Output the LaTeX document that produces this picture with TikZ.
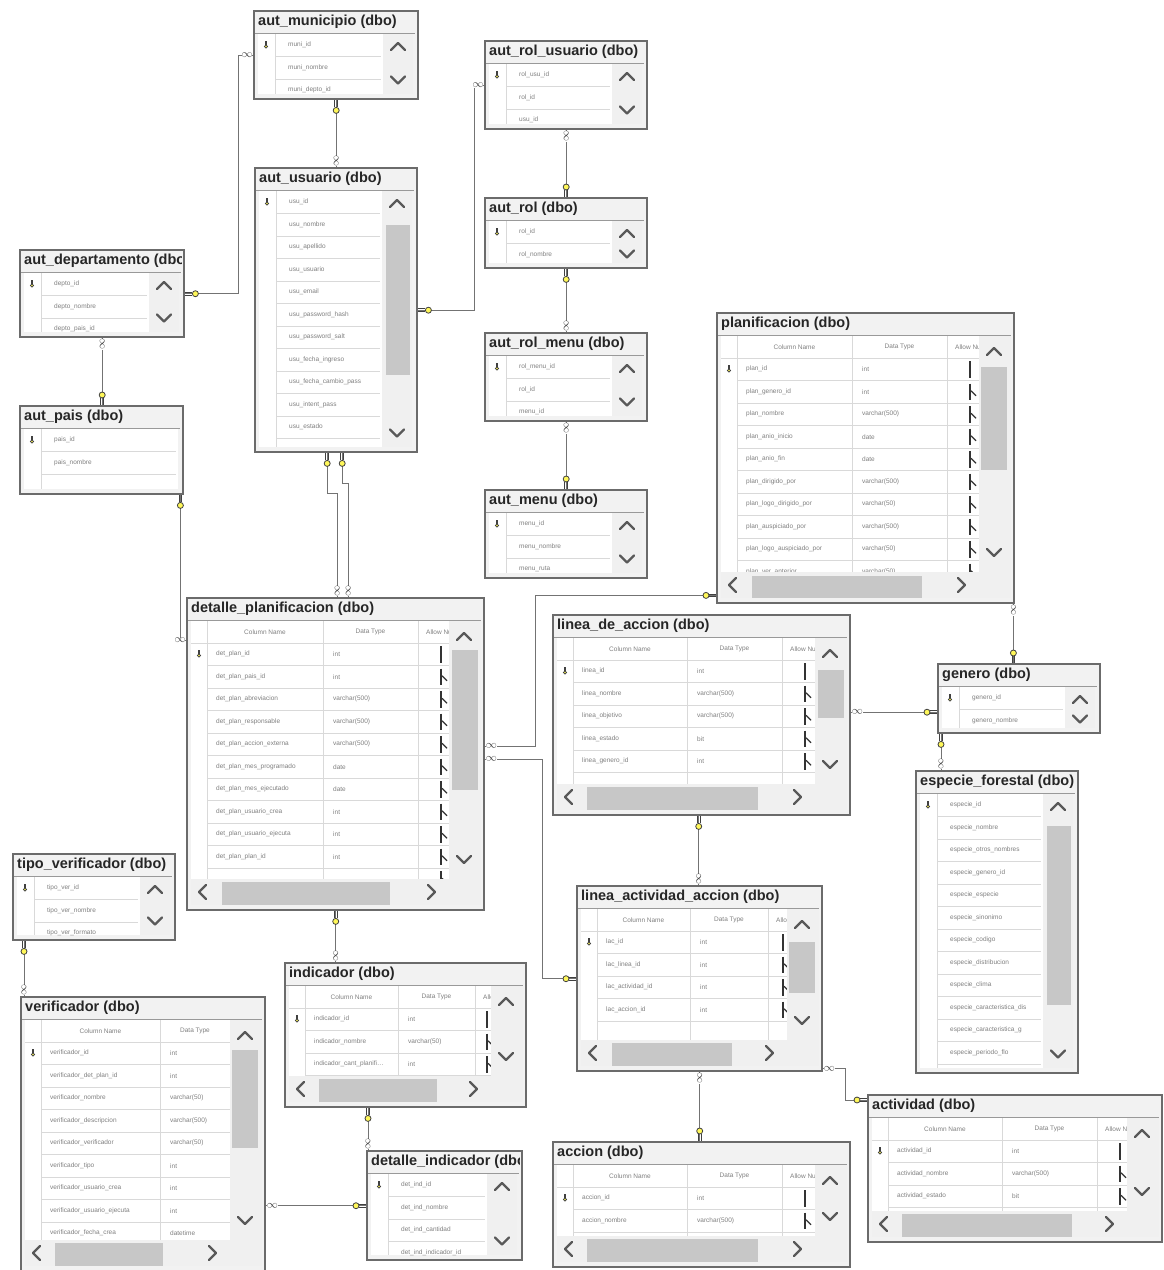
\documentclass[tikz,border=0pt]{standalone}
\usepackage{fontspec}
\setmainfont{Liberation Sans}
\usetikzlibrary{calc}

% list view: [scrollbar] name, x, y, w, h, title, rows
\newcommand{\listtable}[8][1]{%
  \node[tbl, minimum width=#5pt, minimum height=#6pt] (#2) at (#3,#4) {};
  \begin{scope}
    \clip ({#3+2},{#4+2}) rectangle ({#3+#5-2},{#4+#6-2});
    \node[ttltext] at ({#3+5},{#4+12}) {#7};
    \ifnum#1=1 \def\bodyend{34}\else\def\bodyend{4}\fi
    \ifnum#6<80 \def\downat{13}\else\def\downat{18}\fi
    \fill[white] ({#3+5},{#4+24}) rectangle ({#3+#5-\bodyend},{#4+#6-4});
    \draw[rowline] ({#3+22},{#4+24}) -- ({#3+22},{#4+#6-4});
    \foreach \c [count=\i] in {#8} {
      \node[coltext] at ({#3+35},{#4+24+(\i-0.5)*22.5}) {\c};
      \draw[rowline] ({#3+22},{#4+24+\i*22.5}) -- ({#3+#5-\bodyend-2},{#4+24+\i*22.5});
    }
    \pic[scale=0.55, rotate=90] at ({#3+13},{#4+31}) {keyend};
    \ifnum#1=1
      \fill[scrollbar] ({#3+#5-34},{#4+24}) rectangle ({#3+#5-4},{#4+#6-4});
      \draw[chevron] ({#3+#5-26},{#4+40}) -- ({#3+#5-19},{#4+33}) -- ({#3+#5-12},{#4+40});
      \draw[chevron] ({#3+#5-26},{#4+#6-\downat-3.5}) -- ({#3+#5-19},{#4+#6-\downat+3.5}) -- ({#3+#5-12},{#4+#6-\downat-3.5});
    \fi
  \end{scope}
  \draw[ttlline] ({#3+2},{#4+23}) -- ({#3+#5-2},{#4+23});
}

% standard view: name, x, y, w, h, title, name/type divider, type/nulls divider, rows
\newcommand{\gridtable}[9]{%
  \node[tbl, minimum width=#4pt, minimum height=#5pt] (#1) at (#2,#3) {};
  \begin{scope}
    \clip ({#2+2},{#3+2}) rectangle ({#2+#4-2},{#3+#5-2});
    \node[ttltext] at ({#2+5},{#3+12}) {#6};
    \fill[white] ({#2+5},{#3+24}) rectangle ({#2+#4-34},{#3+#5-30});
    \node[hdrtext] at ({#2+(21+#7)/2},{#3+35}) {Column Name};
    \node[hdrtext] at ({#2+(#7+#8)/2},{#3+35}) {Data Type};
    \ifnum\numexpr#4-#8\relax>40
      \node[hdrtext, anchor=west] at ({#2+#8+8},{#3+35}) {Allow Nulls};
    \fi
    \foreach \d in {21,#7,#8} \draw[rowline] ({#2+\d},{#3+24}) -- ({#2+\d},{#3+#5-30});
    \draw[rowline] ({#2+5},{#3+46}) -- ({#2+#4-34},{#3+46});
    \foreach \c/\t [count=\i] in {#9} {
      \node[coltext] at ({#2+30},{#3+46+(\i-0.5)*22.5}) {\c};
      \node[coltext] at ({#2+#7+10},{#3+46+(\i-0.5)*22.5}) {\t};
      \draw[rowline] ({#2+21},{#3+46+\i*22.5}) -- ({#2+#4-34},{#3+46+\i*22.5});
      \ifnum\numexpr#4-#8\relax>40
        \draw[nullbox] ({#2+min(#8+23,#4-38)},{#3+46+(\i-1)*22.5+3}) -- ++(0,16.5);
        \ifnum\i>1 \draw[nullchk] ({#2+min(#8+23,#4-38)+1},{#3+46+(\i-0.5)*22.5-1}) -- ++(5,5);\fi
      \fi
    }
    \pic[scale=0.55, rotate=90] at ({#2+13},{#3+53}) {keyend};
    \fill[scrollbar] ({#2+#4-34},{#3+24}) rectangle ({#2+#4-2},{#3+#5-4});
    \fill[scrollbar] ({#2+5},{#3+#5-30}) rectangle ({#2+#4-4},{#3+#5-4});
    \draw[chevron] ({#2+#4-26},{#3+43}) -- ({#2+#4-19},{#3+36}) -- ({#2+#4-12},{#3+43});
    \draw[chevron] ({#2+#4-26},{#3+#5-53}) -- ({#2+#4-19},{#3+#5-46}) -- ({#2+#4-12},{#3+#5-53});
    \draw[chevron] ({#2+20},{#3+#5-24}) -- ({#2+13},{#3+#5-17}) -- ({#2+20},{#3+#5-10});
    \draw[chevron] ({#2+#4-55},{#3+#5-24}) -- ({#2+#4-48},{#3+#5-17}) -- ({#2+#4-55},{#3+#5-10});
  \end{scope}
  \draw[ttlline] ({#2+2},{#3+23}) -- ({#2+#4-2},{#3+23});
}

\begin{document}
\begin{tikzpicture}[x=1pt, y=-1pt,
    tbl/.style={draw=black!58, line width=2.4pt, fill=black!5, inner sep=0pt, anchor=north west},
    ttltext/.style={font=\fontsize{14.5}{16}\selectfont\bfseries, text=black!85, anchor=west, inner sep=0pt},
    coltext/.style={font=\fontsize{6.5}{7}\selectfont, text=black!50, anchor=west, inner sep=0pt},
    hdrtext/.style={font=\fontsize{6.5}{7}\selectfont, text=black!50, inner sep=0pt},
    rowline/.style={draw=black!15, line width=0.6pt},
    ttlline/.style={draw=black!40, line width=1pt},
    scrollbar/.style={fill=black!6},
    thumbfill/.style={fill=black!22},
    chevron/.style={draw=black!65, line width=2.2pt, line cap=round, line join=round},
    nullbox/.style={draw=black!80, line width=1.6pt},
    nullchk/.style={draw=black!80, line width=1.3pt},
    relline/.style={draw=black!55, line width=1pt},
    pics/keyend/.style={code={
      \draw[black!75, line width=0.8pt] (-7,-1.4) -- (0,-1.4) (-7,1.4) -- (0,1.4);
      \draw[black!75, fill=yellow!65, line width=0.8pt] (-10,0) circle (3);
    }},
    pics/infend/.style={code={
      \node[transform shape, inner sep=0pt, fill=white, text=black!75,
        font=\fontsize{11}{11}\selectfont] at (-6,0) {$\infty$};
    }}
]
\useasboundingbox (0,0) rectangle (1163,1270);
\fill[white] (0,0) rectangle (1163,1270);

% security tables
\listtable{muni}{253}{10}{164}{88}{aut\_municipio (dbo)}{muni\_id, muni\_nombre, muni\_depto\_id}
\listtable{rolusu}{484}{40}{162}{88}{aut\_rol\_usuario (dbo)}{rol\_usu\_id, rol\_id, usu\_id}
\listtable{usuario}{254}{167}{162}{284}{aut\_usuario (dbo)}{usu\_id, usu\_nombre, usu\_apellido, usu\_usuario, usu\_email, usu\_password\_hash, usu\_password\_salt, usu\_fecha\_ingreso, usu\_fecha\_cambio\_pass, usu\_intent\_pass, usu\_estado}
\fill[thumbfill] (386,225) rectangle (410,375);
\listtable{depto}{19}{249}{164}{87}{aut\_departamento (dbo)}{depto\_id, depto\_nombre, depto\_pais\_id}
\listtable[0]{pais}{19}{405}{163}{88}{aut\_pais (dbo)}{pais\_id, pais\_nombre, {}}
\listtable{rol}{484}{197}{162}{70}{aut\_rol (dbo)}{rol\_id, rol\_nombre}
\listtable{rolmenu}{484}{332}{162}{88}{aut\_rol\_menu (dbo)}{rol\_menu\_id, rol\_id, menu\_id}
\listtable{menu}{484}{489}{162}{88}{aut\_menu (dbo)}{menu\_id, menu\_nombre, menu\_ruta}

% planning tables
\gridtable{plan}{716}{312}{297}{290}{planificacion (dbo)}{136}{231}{plan\_id/int, plan\_genero\_id/int, plan\_nombre/varchar(500), plan\_anio\_inicio/date, plan\_anio\_fin/date, plan\_dirigido\_por/varchar(500), plan\_logo\_dirigido\_por/varchar(50), plan\_auspiciado\_por/varchar(500), plan\_logo\_auspiciado\_por/varchar(50), plan\_ver\_anterior/varchar(50)}
\fill[thumbfill] (981,367) rectangle (1007,470);
\fill[thumbfill] (752,576) rectangle (922,598);
\gridtable{detplan}{186}{597}{297}{312}{detalle\_planificacion (dbo)}{137}{232}{det\_plan\_id/int, det\_plan\_pais\_id/int, det\_plan\_abreviacion/varchar(500), det\_plan\_responsable/varchar(500), det\_plan\_accion\_externa/varchar(500), det\_plan\_mes\_programado/date, det\_plan\_mes\_ejecutado/date, det\_plan\_usuario\_crea/int, det\_plan\_usuario\_ejecuta/int, det\_plan\_plan\_id/int, {}/{}}
\fill[thumbfill] (452,650) rectangle (478,790);
\fill[thumbfill] (222,882) rectangle (390,905);
\gridtable{linea}{552}{614}{297}{200}{linea\_de\_accion (dbo)}{135}{230}{linea\_id/int, linea\_nombre/varchar(500), linea\_objetivo/varchar(500), linea\_estado/bit, linea\_genero\_id/int}
\fill[thumbfill] (818,670) rectangle (844,718);
\fill[thumbfill] (587,787) rectangle (758,810);
\listtable{genero}{937}{663}{162}{69}{genero (dbo)}{genero\_id, genero\_nombre}
\listtable{especie}{915}{770}{162}{302}{especie\_forestal (dbo)}{especie\_id, especie\_nombre, especie\_otros\_nombres, especie\_genero\_id, especie\_especie, especie\_sinonimo, especie\_codigo, especie\_distribucion, especie\_clima, especie\_caracteristica\_dis, especie\_caracteristica\_g, especie\_periodo\_flo}
\fill[thumbfill] (1047,826) rectangle (1071,1005);
\gridtable{lac}{576}{885}{245}{185}{linea\_actividad\_accion (dbo)}{114}{192}{lac\_id/int, lac\_linea\_id/int, lac\_actividad\_id/int, lac\_accion\_id/int}
\fill[thumbfill] (789,942) rectangle (815,993);
\fill[thumbfill] (612,1043) rectangle (732,1066);
\gridtable{accion}{552}{1141}{297}{125}{accion (dbo)}{135}{230}{accion\_id/int, accion\_nombre/varchar(500)}
\fill[thumbfill] (587,1239) rectangle (758,1262);
\gridtable{activ}{867}{1094}{294}{147}{actividad (dbo)}{135}{230}{actividad\_id/int, actividad\_nombre/varchar(500), actividad\_estado/bit}
\fill[thumbfill] (902,1214) rectangle (1072,1237);

% indicator tables
\listtable{tipover}{12}{853}{162}{86}{tipo\_verificador (dbo)}{tipo\_ver\_id, tipo\_ver\_nombre, tipo\_ver\_formato}
\gridtable{verif}{20}{996}{244}{274}{verificador (dbo)}{140}{210}{verificador\_id/int, verificador\_det\_plan\_id/int, verificador\_nombre/varchar(50), verificador\_descripcion/varchar(500), verificador\_verificador/varchar(50), verificador\_tipo/int, verificador\_usuario\_crea/int, verificador\_usuario\_ejecuta/int, verificador\_fecha\_crea/datetime}
\fill[thumbfill] (232,1050) rectangle (258,1148);
\fill[thumbfill] (55,1243) rectangle (163,1266);
\gridtable{indic}{284}{962}{241}{144}{indicador (dbo)}{114}{191}{indicador\_id/int, indicador\_nombre/varchar(50), indicador\_cant\_planifi\ldots/int}
\fill[thumbfill] (319,1079) rectangle (437,1102);
\listtable{detind}{366}{1150}{155}{109}{detalle\_indicador (dbo)}{det\_ind\_id, det\_ind\_nombre, det\_ind\_cantidad, det\_ind\_indicador\_id}

% connector ends
\coordinate (paisK) at ([xshift=-4pt]pais.south east);
\coordinate (detplanW) at ([yshift=-43pt]detplan.north west);
\coordinate (usuK1) at ([xshift=-9pt]usuario.south);
\coordinate (usuK2) at ([xshift=6pt]usuario.south);
\coordinate (detplanN1) at ([xshift=1.5pt]detplan.north);
\coordinate (detplanN2) at ([xshift=12.5pt]detplan.north);
\coordinate (detplanE1) at ([yshift=8pt]detplan.east);
\coordinate (detplanE2) at ([yshift=-5pt]detplan.east);
\coordinate (planK) at ([yshift=9pt]plan.south west);
\coordinate (planS) at ([xshift=-2pt]plan.south east);
\coordinate (lineaE) at ([yshift=3pt]linea.east);
\coordinate (generoS) at ([xshift=4pt]genero.south west);
\coordinate (lineaS) at ([xshift=-3pt]linea.south);
\coordinate (lacE) at ([yshift=4pt]lac.south east);
\coordinate (activW) at ([yshift=-6pt]activ.north west);
\coordinate (indicS) at ([xshift=84pt]indic.south west);
\coordinate (tipoS) at ([xshift=12pt]tipover.south west);

% relationships
\draw[relline] (muni.west) -- ++(-15,0) |- (depto.east);
\draw[relline] (muni.south) -- (usuario.north);
\draw[relline] (rolusu.west) -- ++(-10,0) |- (usuario.east);
\draw[relline] (rolusu.south) -- (rol.north);
\draw[relline] (rol.south) -- (rolmenu.north);
\draw[relline] (rolmenu.south) -- (menu.north);
\draw[relline] (depto.south) -- (depto.south |- pais.north);
\draw[relline] (paisK) |- (detplanW);
\draw[relline] (usuK1) -- ++(0,40) -| (detplanN1);
\draw[relline] (usuK2) -- ++(0,30) -| (detplanN2);
\draw[relline] (detplanE1) -- ++(50,0) |- (planK);
\draw[relline] (detplanE2) -- ++(57,0) |- (lac.west);
\draw[relline] (planS) -- (planS |- genero.north);
\draw[relline] (lineaE) -- (lineaE -| genero.west);
\draw[relline] (generoS) -- (generoS |- especie.north);
\draw[relline] (lineaS) -- (lineaS |- lac.north);
\draw[relline] (lac.south) -- (lac.south |- accion.north);
\draw[relline] (lacE) -- ++(22,0) |- (activW);
\draw[relline] (detplan.south) -- (detplan.south |- indic.north);
\draw[relline] (indicS) -- (indicS |- detind.north);
\draw[relline] (verif.east |- detind.west) -- (detind.west);
\draw[relline] (tipoS) -- (tipoS |- verif.north);

% key and many ends
\pic at (muni.west) {infend};
\pic[rotate=180] at (depto.east) {keyend};
\pic[rotate=90] at (muni.south) {keyend};
\pic[rotate=-90] at (usuario.north) {infend};
\pic at (rolusu.west) {infend};
\pic[rotate=180] at (usuario.east) {keyend};
\pic[rotate=90] at (rolusu.south) {infend};
\pic[rotate=-90] at (rol.north) {keyend};
\pic[rotate=90] at (rol.south) {keyend};
\pic[rotate=-90] at (rolmenu.north) {infend};
\pic[rotate=90] at (rolmenu.south) {infend};
\pic[rotate=-90] at (menu.north) {keyend};
\pic[rotate=90] at (depto.south) {infend};
\pic[rotate=-90] at (depto.south |- pais.north) {keyend};
\pic[rotate=90] at (paisK) {keyend};
\pic at (detplanW) {infend};
\pic[rotate=90] at (usuK1) {keyend};
\pic[rotate=90] at (usuK2) {keyend};
\pic[rotate=-90] at (detplanN1) {infend};
\pic[rotate=-90] at (detplanN2) {infend};
\pic[rotate=180] at (detplanE1) {infend};
\pic at (planK) {keyend};
\pic[rotate=180] at (detplanE2) {infend};
\pic at (lac.west) {keyend};
\pic[rotate=90] at (planS) {infend};
\pic[rotate=-90] at (planS |- genero.north) {keyend};
\pic[rotate=180] at (lineaE) {infend};
\pic at (lineaE -| genero.west) {keyend};
\pic[rotate=90] at (generoS) {keyend};
\pic[rotate=-90] at (generoS |- especie.north) {infend};
\pic[rotate=90] at (lineaS) {keyend};
\pic[rotate=-90] at (lineaS |- lac.north) {infend};
\pic[rotate=90] at (lac.south) {infend};
\pic[rotate=-90] at (lac.south |- accion.north) {keyend};
\pic[rotate=180] at (lacE) {infend};
\pic at (activW) {keyend};
\pic[rotate=90] at (detplan.south) {keyend};
\pic[rotate=-90] at (detplan.south |- indic.north) {infend};
\pic[rotate=90] at (indicS) {keyend};
\pic[rotate=-90] at (indicS |- detind.north) {infend};
\pic[rotate=180] at (verif.east |- detind.west) {infend};
\pic at (detind.west) {keyend};
\pic[rotate=90] at (tipoS) {keyend};
\pic[rotate=-90] at (tipoS |- verif.north) {infend};
\end{tikzpicture}
\end{document}
